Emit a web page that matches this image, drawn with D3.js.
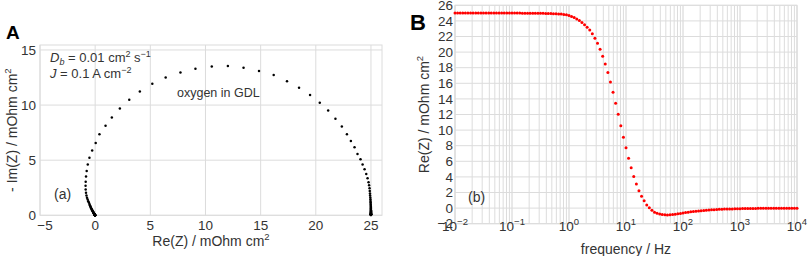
<!DOCTYPE html>
<html><head><meta charset="utf-8">
<script src="https://cdn.jsdelivr.net/npm/d3@7"></script>
<style>
body{margin:0;background:#fff}
svg{display:block}
text{font-family:"Liberation Sans",Arial,Helvetica,sans-serif}
</style>
</head><body>
<svg id="c" width="809" height="256"></svg>
<script>
// log10 of frequency (Hz) of each computed point
const logFreq = [
 -2,-1.955,-1.909,-1.864,-1.818,-1.773,-1.727,-1.682,-1.636,-1.591,-1.545,-1.5,-1.455,-1.409,-1.364,-1.318,-1.273,-1.227,-1.182,-1.136,-1.091,-1.045,
 -1,-0.955,-0.909,-0.864,-0.818,-0.773,-0.727,-0.682,-0.636,-0.591,-0.545,-0.5,-0.455,-0.409,-0.364,-0.318,-0.273,-0.227,-0.182,-0.136,-0.091,-0.045,
 0,0.045,0.091,0.136,0.182,0.227,0.273,0.318,0.364,0.409,0.455,0.5,0.545,0.591,0.636,0.682,0.727,0.773,0.818,0.864,0.909,0.955,
 1,1.045,1.091,1.136,1.182,1.227,1.273,1.318,1.364,1.409,1.455,1.5,1.545,1.591,1.636,1.682,1.727,1.773,1.818,1.864,1.909,1.955,
 2,2.045,2.091,2.136,2.182,2.227,2.273,2.318,2.364,2.409,2.455,2.5,2.545,2.591,2.636,2.682,2.727,2.773,2.818,2.864,2.909,2.955,
 3,3.045,3.091,3.136,3.182,3.227,3.273,3.318,3.364,3.409,3.455,3.5,3.545,3.591,3.636,3.682,3.727,3.773,3.818,3.864,3.909,3.955,
 4
];
// Re(Z), mOhm cm2
const reZ = [
 25,25,25,25,25,25,25,25,25,25,25,25,25,25,25,25,25,25,25,25,25,25,25,25,25,25,
 24.99,24.99,24.99,24.99,24.99,24.98,24.98,24.97,24.97,24.96,24.95,24.94,24.92,24.91,24.89,24.87,24.83,
 24.78,24.69,24.57,24.42,24.24,24.05,23.78,23.51,23.18,22.82,22.36,21.78,21.12,20.36,19.48,18.48,17.39,16.18,14.85,13.45,
 12.03,10.57,9.09,7.73,6.39,5.18,4.05,3.09,2.24,1.51,0.94,0.39,0.05,
 -0.27,-0.52,-0.67,-0.77,-0.83,-0.86,-0.87,-0.86,-0.83,-0.79,-0.74,-0.68,-0.63,-0.57,-0.52,-0.48,-0.44,-0.40,-0.36,-0.33,
 -0.30,-0.27,-0.25,-0.22,-0.20,-0.18,-0.16,-0.15,-0.13,-0.12,-0.11,-0.10,-0.09,-0.08,-0.07,-0.06,-0.06,-0.05,-0.05,-0.04,
 -0.04,-0.03,-0.03,-0.03,-0.02,-0.02,-0.02,-0.02,-0.02,-0.02,-0.01,-0.01,-0.01,-0.01,-0.01,-0.01,-0.01
];
// -Im(Z), mOhm cm2
const negImZ = [
 0.034,0.037,0.041,0.046,0.051,0.057,0.063,0.070,0.077,0.086,0.095,0.106,0.118,0.131,0.145,0.161,0.179,0.199,0.220,0.245,0.272,0.302,
 0.335,0.372,0.412,0.459,0.509,0.566,0.626,0.697,0.774,0.861,0.955,1.059,1.176,1.307,1.451,1.608,1.789,1.987,2.204,2.449,2.717,
 3.0,3.36,3.75,4.18,4.6,5.09,5.57,6.18,6.75,7.36,8.05,8.75,9.51,10.21,10.91,11.57,12.15,12.73,13.09,13.39,
 13.55,13.51,13.30,12.96,12.51,11.94,11.24,10.48,9.69,8.87,8.12,7.36,6.57,
 5.87,5.21,4.6,4.03,3.51,3.05,2.67,2.33,2.04,1.80,1.60,1.43,1.28,1.15,1.03,0.92,0.82,0.73,0.65,0.58,
 0.52,0.46,0.41,0.36,0.32,0.29,0.26,0.23,0.20,0.18,0.16,0.14,0.13,0.11,0.10,0.09,0.08,0.07,0.06,0.055,
 0.05,0.045,0.04,0.035,0.03,0.027,0.024,0.021,0.019,0.017,0.015,0.013,0.012,0.011,0.01,0.009,0.008
];
const nyqXTicks = [-5,0,5,10,15,20,25];
const nyqYTicks = [0,5,10,15];
const bodeXExp = [-2,-1,0,1,2,3,4];
const bodeYTicks = [-2,0,2,4,6,8,10,12,14,16,18,20,22,24,26];

const svg = d3.select('#c');
const gridColor = '#dcdcdc';
const tc = '#333';
const fmt = d => (d < 0 ? '\u2212' + Math.abs(d) : '' + d);

// ---------- Panel A (Nyquist) ----------
const ax = d3.scaleLinear().domain([-5, 26]).range([40, 382]);
const ay = d3.scaleLinear().domain([0, 15.45]).range([215.3, 45]);
const gA = svg.append('g');
gA.selectAll('line.gx').data(nyqXTicks).join('line')
  .attr('x1', d => ax(d)).attr('x2', d => ax(d))
  .attr('y1', ay.range()[0]).attr('y2', ay.range()[1])
  .attr('stroke', gridColor).attr('stroke-width', 1);
gA.selectAll('line.gy').data(nyqYTicks).join('line')
  .attr('x1', ax.range()[0]).attr('x2', ax.range()[1])
  .attr('y1', d => ay(d)).attr('y2', d => ay(d))
  .attr('stroke', gridColor).attr('stroke-width', 1);
gA.append('rect').attr('x', ax.range()[0]).attr('y', ay.range()[1])
  .attr('width', ax.range()[1] - ax.range()[0]).attr('height', ay.range()[0] - ay.range()[1])
  .attr('fill', 'none').attr('stroke', gridColor);
gA.selectAll('text.tx').data(nyqXTicks).join('text')
  .attr('x', d => ax(d) + (d === -5 ? 5 : 0)).attr('y', 230)
  .attr('text-anchor', 'middle').attr('font-size', 13.5).attr('fill', tc).text(fmt);
gA.selectAll('text.ty').data(nyqYTicks).join('text')
  .attr('x', 36).attr('y', d => ay(d)).attr('dy', '0.35em')
  .attr('text-anchor', 'end').attr('font-size', 13.5).attr('fill', tc).text(fmt);
// axis titles
const xtA = gA.append('text').attr('x', (ax.range()[0] + ax.range()[1]) / 2).attr('y', 246)
  .attr('text-anchor', 'middle').attr('font-size', 14).attr('fill', tc);
xtA.append('tspan').text('Re(Z) / mOhm cm');
xtA.append('tspan').attr('font-size', 9.5).attr('dy', -6).text('2');
const ytA = gA.append('text')
  .attr('transform', `translate(16.5,${(ay.range()[0] + ay.range()[1]) / 2}) rotate(-90)`)
  .attr('text-anchor', 'middle').attr('font-size', 14).attr('fill', tc);
ytA.append('tspan').text('- Im(Z) / mOhm cm');
ytA.append('tspan').attr('font-size', 9.5).attr('dy', -6).text('2');
// points
gA.selectAll('circle').data(reZ.map((r, i) => ({r, im: negImZ[i]}))).join('circle')
  .attr('cx', d => ax(d.r)).attr('cy', d => ay(d.im)).attr('r', 1.25).attr('fill', '#000');
// annotations
const a1 = gA.append('text').attr('x', 50).attr('y', 61.5).attr('font-size', 13).attr('fill', tc);
a1.append('tspan').attr('font-style', 'italic').text('D');
a1.append('tspan').attr('font-style', 'italic').attr('font-size', 9).attr('dy', 3).text('b');
a1.append('tspan').attr('dy', -3).text(' = 0.01 cm');
a1.append('tspan').attr('font-size', 9).attr('dy', -5).text('2');
a1.append('tspan').attr('dy', 5).text(' s');
a1.append('tspan').attr('font-size', 9).attr('dy', -5).text('\u22121');
const a2 = gA.append('text').attr('x', 50).attr('y', 78).attr('font-size', 13).attr('fill', tc);
a2.append('tspan').attr('font-style', 'italic').text('J');
a2.append('tspan').text(' = 0.1 A cm');
a2.append('tspan').attr('font-size', 9).attr('dy', -5).text('\u22122');
gA.append('text').attr('x', 177).attr('y', 96.5).attr('font-size', 12.5).attr('fill', tc).text('oxygen in GDL');
gA.append('text').attr('x', 54).attr('y', 198.5).attr('font-size', 14).attr('fill', tc).text('(a)');
svg.append('text').attr('x', 6).attr('y', 38.5).attr('font-size', 19).attr('font-weight', 'bold').attr('fill', '#000').text('A');

// ---------- Panel B (Re vs frequency) ----------
const bx = d3.scaleLog().domain([1e-2, 1e4]).range([455, 797]);
const by = d3.scaleLinear().domain([-2, 26]).range([223.7, 5.3]);
const gB = svg.append('g');
const minor = bx.ticks().filter(v => { const m = v / Math.pow(10, Math.floor(Math.log10(v) + 1e-9)); return Math.round(m) !== 1; });
gB.selectAll('line.mx').data(minor).join('line')
  .attr('x1', d => bx(d)).attr('x2', d => bx(d)).attr('y1', by.range()[0]).attr('y2', by.range()[1])
  .attr('stroke', gridColor).attr('stroke-width', 1);
gB.selectAll('line.gx').data(bodeXExp).join('line')
  .attr('x1', d => bx(Math.pow(10, d))).attr('x2', d => bx(Math.pow(10, d)))
  .attr('y1', by.range()[0]).attr('y2', by.range()[1])
  .attr('stroke', '#d2d2d2').attr('stroke-width', 1);
gB.selectAll('line.gy').data(bodeYTicks).join('line')
  .attr('x1', bx.range()[0]).attr('x2', bx.range()[1]).attr('y1', d => by(d)).attr('y2', d => by(d))
  .attr('stroke', gridColor).attr('stroke-width', 1);
gB.append('rect').attr('x', bx.range()[0]).attr('y', by.range()[1])
  .attr('width', bx.range()[1] - bx.range()[0]).attr('height', by.range()[0] - by.range()[1])
  .attr('fill', 'none').attr('stroke', gridColor);
gB.selectAll('text.ty').data(bodeYTicks).join('text')
  .attr('x', 453).attr('y', d => by(d)).attr('dy', '0.35em')
  .attr('text-anchor', 'end').attr('font-size', 13.5).attr('fill', tc).text(fmt);
gB.selectAll('text.tx').data(bodeXExp).join('text')
  .attr('x', d => bx(Math.pow(10, d))).attr('y', 230.5)
  .attr('text-anchor', 'middle').attr('font-size', 13.5).attr('fill', tc)
  .each(function (d) {
    const t = d3.select(this);
    t.append('tspan').text('10');
    t.append('tspan').attr('font-size', 9.5).attr('dy', -6).text(fmt(d));
  });
gB.append('text').attr('x', (bx.range()[0] + bx.range()[1]) / 2).attr('y', 253.5)
  .attr('text-anchor', 'middle').attr('font-size', 14).attr('fill', tc).text('frequency / Hz');
const ytB = gB.append('text')
  .attr('transform', `translate(429,${(by.range()[0] + by.range()[1]) / 2}) rotate(-90)`)
  .attr('text-anchor', 'middle').attr('font-size', 14).attr('fill', tc);
ytB.append('tspan').text('Re(Z) / mOhm cm');
ytB.append('tspan').attr('font-size', 9.5).attr('dy', -6).text('2');
gB.selectAll('circle').data(reZ.map((r, i) => ({r, f: Math.pow(10, logFreq[i])}))).join('circle')
  .attr('cx', d => bx(d.f)).attr('cy', d => by(d.r)).attr('r', 1.5).attr('fill', '#ff0000');
gB.append('text').attr('x', 468).attr('y', 201.5).attr('font-size', 14).attr('fill', tc).text('(b)');
svg.append('text').attr('x', 410).attr('y', 29.5).attr('font-size', 22).attr('font-weight', 'bold').attr('fill', '#000').text('B');
</script>
</body></html>
